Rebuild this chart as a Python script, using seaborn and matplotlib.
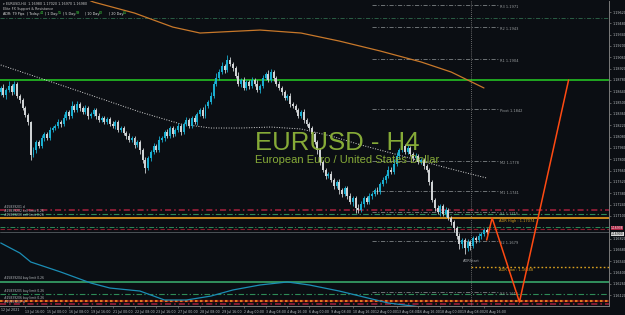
import matplotlib
matplotlib.use("Agg")
import matplotlib.pyplot as plt
import numpy as np
import pandas as pd
import seaborn as sns

# ------------------------------------------------------------------ data
first_open = 1.18660
closes = [
    1.18631, 1.18680, 1.18594, 1.18656, 1.18705, 1.18631, 1.18730, 1.18581, 1.18532, 1.18433,
    1.18347, 1.18260, 1.17852, 1.17914, 1.18013, 1.17963, 1.18062, 1.18112, 1.18062, 1.18161,
    1.18186, 1.18211, 1.18260, 1.18235, 1.18310, 1.18384, 1.18334, 1.18458, 1.18408, 1.18483,
    1.18433, 1.18384, 1.18433, 1.18334, 1.18359, 1.18408, 1.18334, 1.18285, 1.18310, 1.18260,
    1.18297, 1.18235, 1.18211, 1.18260, 1.18161, 1.18186, 1.18124, 1.18087, 1.18038, 1.18062,
    1.17976, 1.18013, 1.17914, 1.17790, 1.17692, 1.17815, 1.17889, 1.17963, 1.17914, 1.18038,
    1.18062, 1.18137, 1.18087, 1.18186, 1.18112, 1.18161, 1.18211, 1.18137, 1.18235, 1.18285,
    1.18211, 1.18310, 1.18260, 1.18359, 1.18408, 1.18334, 1.18458, 1.18507, 1.18581, 1.18730,
    1.18804, 1.18878, 1.18952, 1.18903, 1.19026, 1.18977, 1.18928, 1.18829, 1.18730, 1.18779,
    1.18680, 1.18755, 1.18705, 1.18779, 1.18730, 1.18656, 1.18705, 1.18804, 1.18853, 1.18779,
    1.18878, 1.18804, 1.18730, 1.18680, 1.18631, 1.18557, 1.18581, 1.18483, 1.18458, 1.18408,
    1.18334, 1.18384, 1.18285, 1.18235, 1.18186, 1.18112, 1.18013, 1.17914, 1.17766, 1.17667,
    1.17593, 1.17617, 1.17543, 1.17469, 1.17519, 1.17420, 1.17370, 1.17444, 1.17345, 1.17271,
    1.17321, 1.17197, 1.17172, 1.17247, 1.17321, 1.17271, 1.17345, 1.17370, 1.17420, 1.17395,
    1.17494, 1.17543, 1.17593, 1.17667, 1.17642, 1.17741, 1.17840, 1.17914, 1.17963, 1.17889,
    1.17939, 1.17865, 1.17815, 1.17840, 1.17766, 1.17790, 1.17716, 1.17667, 1.17519, 1.17296,
    1.17197, 1.17148, 1.17222, 1.17123, 1.17172, 1.17074, 1.17024, 1.16950, 1.16851, 1.16752,
    1.16802, 1.16703, 1.16777, 1.16727, 1.16826, 1.16802, 1.16851, 1.16876, 1.16925, 1.16900,
]
wick_up_pips = [
    4, 3, 5, 2, 6, 3, 4, 2, 3, 2,  3, 2, 1, 4, 3, 2, 4, 3, 2, 4,
    3, 2, 4, 3, 5, 3, 2, 6, 3, 4,  2, 3, 4, 2, 3, 2, 3, 4, 2, 3,
    2, 3, 4, 2, 3, 2, 3, 2, 4, 3,  2, 3, 2, 3, 4, 3, 2, 4, 3, 5,
    3, 2, 4, 3, 2, 3, 4, 2, 3, 4,  2, 3, 4, 3, 2, 4, 3, 3, 5, 4,
    6, 4, 5, 3, 6, 4, 3, 2, 5, 3,  4, 3, 2, 4, 3, 5, 2, 4, 3, 5,
    4, 3, 2, 4, 3, 2, 3, 4, 2, 3,  2, 3, 4, 2, 3, 2, 3, 2, 3, 2,
    3, 2, 4, 3, 2, 4, 3, 2, 3, 4,  2, 3, 5, 4, 3, 2, 4, 3, 2, 4,
    3, 4, 3, 5, 4, 6, 5, 3, 4, 3,  4, 3, 2, 4, 3, 2, 3, 2, 3, 2,
    3, 4, 2, 3, 4, 2, 3, 2, 3, 4,  3, 2, 4, 3, 2, 3, 4, 2, 3, 2,
]
wick_dn_pips = [
    3, 4, 2, 5, 3, 4, 2, 3, 4, 3,  2, 4, 6, 3, 4, 2, 3, 4, 2, 3,
    2, 3, 2, 4, 3, 2, 4, 3, 2, 3,  4, 2, 3, 4, 2, 3, 4, 2, 3, 2,
    3, 2, 3, 4, 2, 3, 2, 4, 3, 2,  4, 3, 5, 4, 6, 3, 4, 2, 3, 2,
    3, 4, 2, 3, 4, 2, 3, 4, 2, 3,  3, 2, 3, 4, 2, 3, 2, 3, 2, 3,
    2, 3, 2, 4, 3, 2, 4, 3, 2, 4,  3, 2, 4, 3, 2, 3, 4, 2, 3, 2,
    3, 4, 2, 3, 4, 3, 2, 4, 3, 2,  3, 2, 4, 3, 2, 4, 3, 5, 4, 3,
    4, 3, 2, 4, 3, 5, 4, 3, 4, 3,  5, 6, 4, 3, 4, 2, 3, 4, 2, 3,
    3, 2, 4, 3, 2, 3, 2, 4, 3, 2,  3, 2, 4, 3, 2, 3, 4, 3, 4, 3,
    4, 3, 5, 3, 4, 3, 4, 5, 4, 6,  5, 8, 4, 5, 3, 4, 3, 4, 3, 2,
]

time_label_bars = [10, 18, 26, 34, 42, 50, 58, 66, 74, 82, 90, 98, 106, 114,
                   122, 130, 138, 146, 154, 162, 170, 178]
time_labels = ["13 Jul 16:00", "15 Jul 00:00", "16 Jul 08:00", "19 Jul 16:00",
               "21 Jul 00:00", "22 Jul 08:00", "23 Jul 16:00", "27 Jul 00:00",
               "28 Jul 08:00", "29 Jul 16:00", "2 Aug 00:00", "3 Aug 08:00",
               "4 Aug 16:00", "6 Aug 00:00", "9 Aug 08:00", "10 Aug 16:00",
               "12 Aug 00:00", "13 Aug 08:00", "16 Aug 16:00", "18 Aug 00:00",
               "19 Aug 08:00", "20 Aug 16:00"]
first_time_label = "12 Jul 2021"

# (the 1.16960 label is hidden behind the price tags in the reference)
price_ticks = [1.19620, 1.19480, 1.19340, 1.19200, 1.19060, 1.18920, 1.18780,
               1.18640, 1.18500, 1.18360, 1.18220, 1.18080, 1.17940, 1.17800,
               1.17660, 1.17520, 1.17380, 1.17240, 1.17100, 1.16820,
               1.16680, 1.16540, 1.16400, 1.16260, 1.16120]

slow_ma_bars = [1, 12, 23, 37, 52, 67, 78, 89, 100, 111, 122, 133, 144, 155, 166, 179]
slow_ma_vals = [1.18965, 1.18841, 1.18717, 1.18557, 1.18384, 1.18235, 1.18186, 1.18186,
                1.18198, 1.18174, 1.18087, 1.17976, 1.17877, 1.17778, 1.17679, 1.17568]

orange_ma_bars = [23, 35, 50, 64, 74, 81, 96, 111, 125, 140, 155, 166, 178]
orange_ma_vals = [1.19916, 1.19743, 1.19607, 1.19434, 1.19360, 1.19372, 1.19397,
                  1.19360, 1.19261, 1.19138, 1.19002, 1.18878, 1.18681]

osc_bars = [1, 8, 12, 23, 34, 41, 52, 61, 69, 78, 86, 96, 106, 114, 125, 143, 158]
osc_vals = [1.16765, 1.16641, 1.16530, 1.16406, 1.16270, 1.16208, 1.16171, 1.16060,
            1.16060, 1.16109, 1.16184, 1.16246, 1.16283, 1.16246, 1.16171, 1.16023, 1.15960]

zigzag_bars = [179, 181, 191, 209]
zigzag_vals = [1.16802, 1.17074, 1.16035, 1.18779]

pivot_names = ["R3", "R2", "R1", "Pivot", "M2", "M1", "S1", "S2", "S3"]
pivot_vals = [1.19706, 1.19434, 1.19039, 1.18421, 1.17778, 1.17407, 1.17148, 1.16789, 1.16159]
pivot_start_bar, pivot_end_bar = 137, 183

top_band = 1.19546
green_level = 1.18779
sell_stop_d = 1.17172
sell_limit_1 = 1.17123
adr_high = 1.17074
sell_limit_2 = 1.16962
bid_line = 1.16938
last_price = 1.16900
adr_low = 1.16468
adr_start_bar = 173.3
buy_limit_1 = 1.16283
buy_limit_2 = 1.16136
buy_limit_3 = 1.16048
buy_stop_d = 1.16011

# ------------------------------------------------------------------ style
BG = "#0b0e13"
sns.set_theme(style="dark", rc={"axes.facecolor": BG, "figure.facecolor": BG,
                                "axes.grid": False})
plt.rcParams["font.family"] = ["DejaVu Sans"]

W, H = 625, 315
fig = plt.figure(figsize=(6.25, 3.15), dpi=100)
ax = fig.add_axes([0, 1 - 306 / H, 609 / W, 305 / H])
ax.set_facecolor(BG)
ax.set_xlim(0.73, 223.8)
ax.set_ylim(1.15986, 1.19756)

def fx(px):
    return px / W

def fy(py):
    return 1 - py / H

# ---- horizontal levels
def hl(y, color, ls, lw, xmin=None, xmax=None, z=1):
    x0 = ax.get_xlim()[0] if xmin is None else xmin
    x1 = ax.get_xlim()[1] if xmax is None else xmax
    ax.plot([x0, x1], [y, y], color=color, linestyle=ls, lw=lw, zorder=z)

dashdot = (0, (5, 2, 1.2, 2))
hl(top_band, "#2f6b4d", dashdot, 0.6)
hl(green_level, "#22b322", "-", 1.3)
hl(sell_stop_d, "#a8203e", (0, (4, 2, 1, 2)), 1.1)
hl(sell_limit_1, "#2e8b57", dashdot, 0.8)
hl(adr_high, "#f0a020", "-", 1.2)
hl(sell_limit_2, "#2e8b57", dashdot, 0.7)
hl(bid_line, "#8b1c2c", (0, (4, 2)), 0.8)
hl(last_price, "#555b60", "-", 0.6)
hl(adr_low, "#d9a020", (0, (1.2, 1.6)), 1.0, xmin=adr_start_bar)
hl(buy_limit_1, "#3cb371", "-", 1.1)
hl(buy_limit_2, "#2e8b57", dashdot, 0.8)
hl(buy_limit_3, "#7a1010", "-", 1.5)
hl(buy_limit_3, "#e07a20", (0, (1.2, 1.2)), 1.5)
hl(buy_stop_d, "#a8203e", (0, (4, 2, 1, 2)), 1.1)

# pivots
for name, val in zip(pivot_names, pivot_vals):
    ax.plot([pivot_start_bar, pivot_end_bar], [val, val], color="#7d8285",
            linestyle=dashdot, lw=0.6, zorder=1)
    ax.text(pivot_end_bar + 0.8, val + 0.00004, f"{name} {val:.4f}", color="#9a9ea0",
            fontsize=2.6, va="top", ha="left", zorder=4)

# day separator
ax.axvline(adr_start_bar, color="#8a8a8a", linestyle=(0, (1, 1.5)), lw=0.6, zorder=1)

# ---- indicator lines (seaborn)
sns.lineplot(x=osc_bars, y=osc_vals, ax=ax, color="#1b8db5", lw=0.9,
             estimator=None, sort=False, zorder=2)
sns.lineplot(x=orange_ma_bars, y=orange_ma_vals, ax=ax, color="#c8782a", lw=0.9,
             estimator=None, sort=False, zorder=2)
sns.lineplot(x=slow_ma_bars, y=slow_ma_vals, ax=ax, color="#d8d8d8", lw=0.7,
             linestyle=(0, (1, 1.6)), estimator=None, sort=False, zorder=2)

# ---- candles
df = pd.DataFrame({"close": closes})
df["open"] = [first_open] + closes[:-1]
df["bar"] = np.arange(len(df))
n = len(df)
df["high"] = np.maximum(df.open, df.close) + np.array(wick_up_pips[:n]) * 1e-4
df["low"] = np.minimum(df.open, df.close) - np.array(wick_dn_pips[:n]) * 1e-4
UP, DN = "#1aaed0", "#cfd2d4"
cols = np.where(df.close >= df.open, UP, DN)
ax.vlines(df.bar, df.low, df.high, colors=cols, lw=0.6, zorder=3)
body_h = (df.close - df.open).abs().clip(lower=0.00004)
ax.bar(df.bar, body_h, bottom=np.minimum(df.open, df.close), width=0.72,
       color=cols, linewidth=0, zorder=3)

# projection zigzag
sns.lineplot(x=zigzag_bars, y=zigzag_vals, ax=ax, color="#ff4a12", lw=1.1,
             estimator=None, sort=False, zorder=5)

# ---- ADR labels
ax.text(pivot_end_bar + 0.5, adr_high - 0.00008, f"ADR High : {adr_high:.5f}",
        color="#d9a020", fontsize=2.6, va="top", ha="left", zorder=4)
ax.text(pivot_end_bar + 0.5, adr_low - 0.00008, f"ADR Low : {adr_low:.5f}",
        color="#d9a020", fontsize=2.6, va="top", ha="left", zorder=4)
ax.text(adr_start_bar, 1.16543, "ADRStart", color="#a0a4a8", fontsize=2.6,
        ha="center", va="center", zorder=4)

# ---- axes styling
for s in ["left", "top"]:
    ax.spines[s].set_visible(False)
for s in ["right", "bottom"]:
    ax.spines[s].set_color("#7a7a7a")
    ax.spines[s].set_linewidth(0.7)
ax.yaxis.tick_right()
ax.set_yticks(price_ticks)
ax.set_yticklabels([f"{p:.5f}" for p in price_ticks])
ax.tick_params(axis="y", which="both", right=True, left=False, length=1.5, width=0.5,
               colors="#7a7a7a", labelcolor="#b8bcc0", labelsize=2.4, pad=1)
ax.set_xticks(time_label_bars)
ax.set_xticklabels(time_labels)
ax.tick_params(axis="x", which="both", bottom=True, length=1.5, width=0.5,
               colors="#7a7a7a", labelcolor="#b8bcc0", labelsize=2.3, pad=1.5)
for lbl in ax.get_xticklabels():
    lbl.set_horizontalalignment("left")
ax.text(0.002, -0.008, first_time_label, transform=ax.transAxes, color="#b8bcc0",
        fontsize=2.3, ha="left", va="top")

# price tags
ax.text(1.003, bid_line + 0.00014, f"{bid_line:.5f}", transform=ax.get_yaxis_transform(),
        fontsize=2.2, color="white", va="center", ha="left", clip_on=False,
        bbox=dict(boxstyle="square,pad=0.05", fc="#a8203e", ec="none"))
ax.text(1.003, last_price - 0.00020, f"{last_price:.5f}", transform=ax.get_yaxis_transform(),
        fontsize=2.2, color="black", va="center", ha="left", clip_on=False,
        bbox=dict(boxstyle="square,pad=0.05", fc="#d8d8d8", ec="none"))

# ---- title
ax.text(337 / 609, 1 - 142 / 305, "EURUSD - H4", transform=ax.transAxes,
        fontsize=18.5, family=["Liberation Sans", "DejaVu Sans"], color="#8db33a",
        ha="center", va="center", alpha=0.95)
ax.text(347 / 609, 1 - 159 / 305, "European Euro / United States Dollar",
        transform=ax.transAxes, fontsize=8.0, family=["Liberation Sans", "DejaVu Sans"],
        color="#8db33a", ha="center", va="center", alpha=0.95)

# ---- header texts
fig.text(fx(3), fy(4), "▾ EURUSD,H4  1.16980 1.17020 1.16970 1.16980", color="#c8c8c8",
         fontsize=2.4, va="center", ha="left")
fig.text(fx(3), fy(9), "Elite FX Support & Resistance", color="#c8c8c8",
         fontsize=2.4, va="center", ha="left")
header_items = [("ADR: 79 Pips", "", 3), ("| Today:", "44", 27), ("| 1 Day:", "55", 45),
                ("| 5 Day:", "59", 63), ("| 10 Day:", "62", 85), ("| 20 Day:", "65", 109)]
for lab, val, px in header_items:
    fig.text(fx(px), fy(13.5), lab, color="#e0e0e0", fontsize=2.4, va="center", ha="left")
    if val:
        fig.text(fx(px + len(lab) * 1.45 + 1), fy(13.5), val, color="#3cd03c",
                 fontsize=2.4, va="center", ha="left")

# ---- order labels on the left
order_labels = [(207, "#25839201 d"), (211, "#25839202 sell limit 0.26"),
                (215, "#25839203 sell limit 0.26"), (278, "#25839204 buy limit 0.26"),
                (291, "#25839205 buy limit 0.26"), (298, "#25839206 buy limit 0.26"),
                (302, "#25839207 d")]
for py, txt in order_labels:
    fig.text(fx(4), fy(py), txt, color="#b8bcc0", fontsize=2.2, va="center", ha="left")

fig.savefig("out.png", dpi=100, facecolor=BG)
